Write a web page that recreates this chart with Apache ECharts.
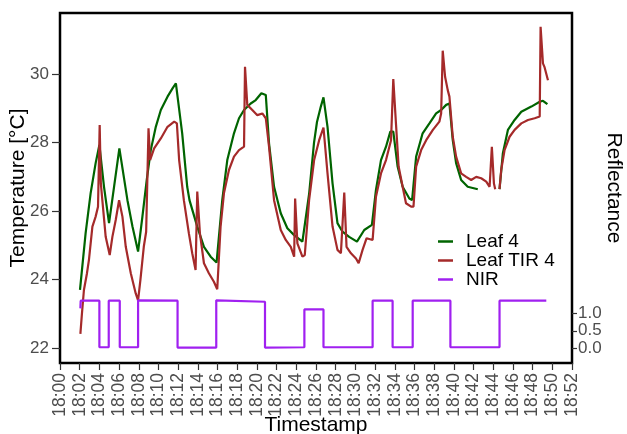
<!DOCTYPE html>
<html>
<head>
<meta charset="utf-8">
<script src="https://cdn.jsdelivr.net/npm/echarts@6/dist/echarts.min.js"></script>
<style>
html,body{margin:0;padding:0;background:#fff;}
#chart{width:627px;height:434px;}
</style>
</head>
<body>
<div id="chart"></div>
<script>
// x tick labels (minutes after 18:00, every 2 minutes)
var xTickMinutes = [0,2,4,6,8,10,12,14,16,18,20,22,24,26,28,30,32,34,36,38,40,42,44,46,48,50,52];
var xTickLabels = ['18:00','18:02','18:04','18:06','18:08','18:10','18:12','18:14','18:16','18:18','18:20','18:22','18:24','18:26','18:28','18:30','18:32','18:34','18:36','18:38','18:40','18:42','18:44','18:46','18:48','18:50','18:52'];
var tempTicks = [22,24,26,28,30];
var reflTicks = [0,0.5,1];

// Leaf 4 (minutes after 18:00, °C)
var leaf4Time = [2.03,2.6,3.11,3.62,4.0,4.47,4.98,5.49,6.03,6.85,7.36,7.93,8.37,8.81,9.22,9.73,10.24,10.92,11.43,11.77,11.94,12.41,12.92,13.15,13.94,14.62,15.3,15.9,16.48,16.99,17.67,18.18,18.69,19.37,19.88,20.45,20.9,21.23,21.74,22.42,23.09,23.78,24.62,24.79,25.3,25.8,26.1,26.49,26.76,27.17,27.68,28.18,28.69,29.37,30.16,30.9,31.68,32.09,32.6,33.11,33.55,33.85,34.29,34.8,35.48,35.76,36.17,36.83,37.52,38.2,38.71,39.22,39.55,39.89,40.23,40.74,41.41,42.43,43.5,44.64,44.98,45.49,46.17,46.85,47.87,48.72,49.05,49.5];
var leaf4Temp = [23.70,25.35,26.52,27.40,27.93,26.71,25.65,26.71,27.83,26.32,25.55,24.82,25.84,26.91,27.78,28.46,28.95,29.34,29.58,29.73,29.75,28.27,26.71,26.32,25.55,24.96,24.67,24.50,26.32,27.49,28.27,28.71,28.95,29.14,29.24,29.44,29.39,27.98,26.71,25.94,25.50,25.30,25.11,25.11,26.50,28.00,28.60,29.05,29.32,28.46,26.81,25.65,25.40,25.25,25.11,25.45,25.60,26.62,27.49,27.88,28.32,28.32,27.30,26.71,26.37,26.32,27.59,28.27,28.56,28.85,28.95,29.10,29.14,28.07,27.40,26.91,26.71,26.64,null,26.64,27.69,28.37,28.66,28.90,29.05,29.19,29.22,29.12];

// Leaf TIR 4 (minutes after 18:00, °C)
var tirTime = [2.07,2.23,2.43,2.74,2.94,3.29,3.62,3.86,4.03,4.15,4.3,4.64,5.05,5.32,5.66,6.0,6.34,6.68,7.19,7.69,7.93,8.17,8.51,8.75,8.99,9.15,9.56,10.24,10.92,11.6,11.87,12.1,12.58,13.09,13.43,13.77,13.94,14.21,14.62,15.12,15.63,15.97,16.31,16.65,17.16,17.67,18.18,18.69,18.79,19.02,19.53,20.04,20.55,20.9,21.23,21.74,22.42,22.93,23.44,23.78,23.88,24.11,24.62,24.86,25.3,25.81,26.32,26.76,27.17,27.68,28.18,28.53,28.87,29.1,29.55,30.06,30.33,30.73,31.14,31.75,32.09,32.6,33.11,33.62,33.85,34.12,34.39,34.8,35.14,35.66,35.9,36.17,36.68,37.19,37.87,38.53,38.71,38.87,39.11,39.38,39.55,39.89,40.23,40.74,41.25,41.76,42.27,42.78,43.29,43.63,43.86,44.07,44.2,44.4,44.64,44.81,45.15,45.66,46.17,46.85,47.53,48.21,48.72,48.81,49.05,49.2,49.56];
var tirTemp = [22.42,23.02,23.70,24.19,24.58,25.55,25.84,26.13,28.51,26.80,26.32,25.25,24.72,25.25,25.74,26.32,25.84,24.96,24.19,23.60,23.40,24.00,24.96,25.40,28.42,27.49,27.83,28.12,28.46,28.61,28.56,27.49,26.32,25.35,24.77,24.28,26.57,25.35,24.48,24.19,23.94,23.72,25.55,26.52,27.20,27.59,27.78,27.88,30.21,29.10,28.95,28.80,28.85,28.71,27.88,26.32,25.45,25.16,24.96,24.67,26.37,25.06,24.67,24.72,26.32,27.49,28.07,28.44,27.10,25.55,24.87,24.77,26.54,24.96,24.77,24.62,24.48,24.87,25.21,25.16,26.42,27.10,27.49,28.07,29.85,28.56,27.30,26.71,26.23,26.13,26.13,27.30,27.78,28.07,28.37,28.61,28.85,30.68,29.92,29.53,29.34,28.17,27.59,27.10,27.00,26.91,27.00,26.96,26.86,26.71,27.88,26.81,26.64,null,26.64,27.20,27.78,28.17,28.37,28.56,28.66,28.71,28.76,31.38,30.31,30.21,29.82];

// NIR reflectance (minutes after 18:00)
var nirTime = [2.07,2.1,4.0,4.0,4.95,4.95,6.07,6.07,7.93,7.93,11.94,11.94,15.87,15.87,20.82,20.82,24.82,24.82,26.76,26.76,31.75,31.75,33.78,33.78,35.82,35.82,39.65,39.65,44.64,44.64,49.39];
var nirValue = [1.14,1.36,1.36,0.03,0.03,1.36,1.36,0.03,0.03,1.37,1.36,0.02,0.02,1.37,1.33,0.02,0.03,1.11,1.11,0.03,0.03,1.36,1.36,0.03,0.03,1.36,1.36,0.03,0.03,1.36,1.36];

function pairs(xs, ys){ return xs.map(function(x,i){ return [x, ys[i]]; }); }

var labelColor = '#4D4D4D';
var fontFam = 'Liberation Sans, Arial, sans-serif';

var chart = echarts.init(document.getElementById('chart'), null, {renderer:'canvas'});
chart.setOption({
  animation: false,
  backgroundColor: '#ffffff',
  textStyle: {fontFamily: fontFam},
  grid: {left: 60, right: 55, top: 13, bottom: 71, containLabel: false, outerBoundsMode: 'none',
         show: true, borderColor: '#000', borderWidth: 2.5, backgroundColor: 'transparent'},
  legend: {
    orient: 'vertical', left: 433, top: 227, itemGap: 0,
    icon: 'rect', itemWidth: 15, itemHeight: 2.5,
    textStyle: {fontSize: 19, color: '#000', fontFamily: fontFam, lineHeight: 18.5, padding: [0,0,0,8]},
    data: ['Leaf 4', 'Leaf TIR 4', 'NIR']
  },
  xAxis: {
    type: 'value', min: 0, max: 52, interval: 2,
    name: 'Timestamp', nameLocation: 'middle', nameGap: 52, nameMoveOverlap: false,
    nameTextStyle: {fontSize: 21, color: '#000', fontFamily: fontFam},
    axisLine: {show: false, onZero: false},
    axisTick: {show: true, length: 7, lineStyle: {color: '#333', width: 1.2}},
    splitLine: {show: false},
    axisLabel: {
      rotate: 90, margin: 10, fontSize: 17.5, color: labelColor, fontFamily: fontFam, hideOverlap: false,
      showMinLabel: true, showMaxLabel: true,
      formatter: function(v){ var i = xTickMinutes.indexOf(Math.round(v)); return i >= 0 ? xTickLabels[i] : ''; }
    }
  },
  yAxis: [{
    type: 'value', min: 21.57, max: 31.78, position: 'left',
    name: 'Temperature [°C]', nameLocation: 'middle', nameGap: 31, nameRotate: 90, nameMoveOverlap: false,
    nameTextStyle: {fontSize: 21, color: '#000', fontFamily: fontFam},
    axisLine: {show: false, onZero: false},
    axisTick: {show: true, length: 8, customValues: tempTicks, lineStyle: {color: '#333', width: 1.2}},
    splitLine: {show: false},
    axisLabel: {customValues: tempTicks, margin: 11, fontSize: 17, color: labelColor, fontFamily: fontFam, hideOverlap: false}
  }, {
    type: 'value', min: -0.42, max: 9.58, position: 'right',
    name: 'Reflectance', nameLocation: 'middle', nameGap: 31, nameRotate: -90, nameMoveOverlap: false,
    nameTextStyle: {fontSize: 21, color: '#000', fontFamily: fontFam},
    axisLine: {show: false, onZero: false},
    axisTick: {show: true, length: 5, customValues: reflTicks, lineStyle: {color: '#333', width: 1.2}},
    splitLine: {show: false},
    axisLabel: {customValues: reflTicks, margin: 6, fontSize: 17, color: labelColor, fontFamily: fontFam, hideOverlap: false,
      showMinLabel: true, showMaxLabel: true,
      formatter: function(v){ return v.toFixed(1); }}
  }],
  series: [{
    name: 'Leaf 4', type: 'line', yAxisIndex: 0, showSymbol: false, connectNulls: false,
    color: '#006400', lineStyle: {width: 2.2, color: '#006400'},
    data: pairs(leaf4Time, leaf4Temp)
  }, {
    name: 'Leaf TIR 4', type: 'line', yAxisIndex: 0, showSymbol: false, connectNulls: false,
    color: '#A52A2A', lineStyle: {width: 2.2, color: '#A52A2A'},
    data: pairs(tirTime, tirTemp)
  }, {
    name: 'NIR', type: 'line', yAxisIndex: 1, showSymbol: false,
    color: '#A020F0', lineStyle: {width: 2.2, color: '#A020F0'},
    data: pairs(nirTime, nirValue)
  }]
});
</script>
</body>
</html>
